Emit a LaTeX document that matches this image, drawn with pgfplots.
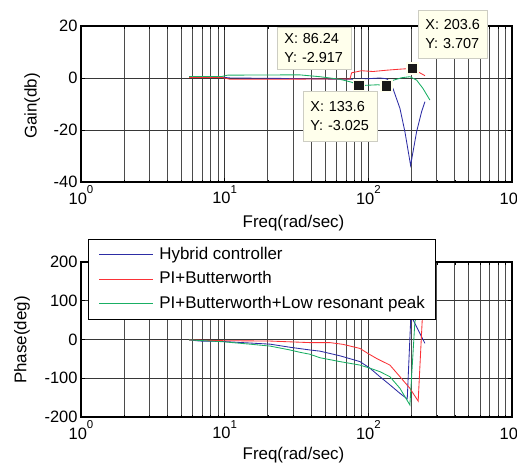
\documentclass[border=0pt]{standalone}
\usepackage{fontspec}
\setmainfont{Liberation Sans}
\usepackage{pgfplots}
\pgfplotsset{compat=1.18}

\definecolor{cblue}{RGB}{45,45,165}
\definecolor{cred}{RGB}{250,50,55}
\definecolor{cgreen}{RGB}{25,175,100}
\definecolor{tipfill}{RGB}{255,255,236}
\definecolor{tipedge}{RGB}{205,205,195}
\definecolor{gridc}{RGB}{55,55,55}

% decade labels 10^n set in the text font
\newcommand{\dec}[1]{10\raisebox{10.5bp}{\fontsize{11.5}{12}\selectfont #1}}

\tikzset{
  datatip/.style={draw=tipedge, fill=tipfill, line width=0.8bp, align=left,
    font=\fontsize{14.5}{19}\selectfont, inner xsep=7bp, inner ysep=0bp,
    anchor=north west},
}
% legend sample: a thin 54bp bar in the given colour
\pgfplotsset{
  legline/.style={legend image code/.code={%
    \path[draw=none, fill=#1] (0bp,-0.5bp) rectangle (54bp,0.5bp);
    \path (60bp,0bp);}},
}

\begin{document}
\begin{tikzpicture}

% ---------------- magnitude ----------------
\begin{axis}[
  scale only axis, width=431bp, height=156bp,
  at={(81bp,-182bp)}, anchor=south west,
  xmode=log, xmin=1, xmax=1000,
  xtick={1,10,100,1000},
  xticklabels={\dec{0},\dec{1},\dec{2},\dec{3}},
  ymin=-40, ymax=20, ytick={-40,-20,0,20},
  xmajorgrids, xminorgrids, ymajorgrids,
  major grid style={gridc, line width=0.9bp},
  minor grid style={gridc!90, line width=0.9bp},
  axis line style={black, line width=1.5bp},
  tick style={black, line width=0.6bp},
  major tick length=4bp, minor tick length=2.5bp,
  tick align=inside,
  ticklabel style={font=\fontsize{16.5}{19}\selectfont},
  label style={font=\fontsize{17}{20}\selectfont},
  /pgf/number format/assume math mode=true,
  ylabel={Gain(db)}, xlabel={Freq(rad/sec)},
  ylabel style={at={(axis description cs:-0.113,0.487)}, anchor=center},
  xlabel style={at={(axis description cs:0.493,-0.264)}, anchor=center},
]
% Hybrid controller
\addplot[draw=cblue, line width=0.85bp] coordinates {
  (5.65,0.3) (9.6,0.3) (11,0.0) (30,-0.2) (50,-0.4) (74.5,-0.5) (97,-0.3)
  (120.4,0.0) (134,-0.3) (141.3,-1.5) (148.3,-4) (166,-11.7) (179.8,-20.7)
  (196.9,-33.6) (216.7,-20.7) (234.8,-13) (247.7,-9.1)};
% PI + Butterworth
\addplot[draw=cred, line width=0.85bp] coordinates {
  (5.65,0.2) (9.6,0.2) (10.9,-0.5) (20,-0.5) (40,-0.4) (74.5,-0.4)
  (76.5,2.0) (89.8,2.8) (107.7,2.5) (134,3.0) (166,3.4) (203.6,3.707)
  (221.3,2.4) (247.7,0.9)};
% PI + Butterworth + low resonant peak
\addplot[draw=cgreen, line width=0.85bp] coordinates {
  (5.65,0.6) (9.6,0.6) (10.5,1.1) (28.5,1.2) (33.4,1.2) (46,0.5) (63.4,-0.5)
  (76.5,-1.6) (86.24,-2.917) (97.3,-2.8) (116.7,-2.6) (133.6,-3.025)
  (148.3,-0.9) (170.5,0.1) (194.7,0.5) (216.7,-0.8) (239.9,-4) (268.3,-8.5)};
% data tips
\addplot[only marks, mark=square*, mark size=5.5bp,
  mark options={fill=black!90, draw=tipfill, line width=1.5bp}]
  coordinates {(86.24,-2.917) (133.6,-3.025) (203.6,3.707)};
\end{axis}

% ---------------- phase ----------------
\begin{axis}[
  scale only axis, width=431bp, height=155bp,
  at={(81bp,-417bp)}, anchor=south west,
  xmode=log, xmin=1, xmax=1000,
  xtick={1,10,100,1000},
  xticklabels={\dec{0},\dec{1},\dec{2},\dec{3}},
  ymin=-200, ymax=200, ytick={-200,-100,0,100,200},
  xmajorgrids, xminorgrids, ymajorgrids,
  major grid style={gridc, line width=0.9bp},
  minor grid style={gridc!90, line width=0.9bp},
  axis line style={black, line width=1.5bp},
  tick style={black, line width=0.6bp},
  major tick length=4bp, minor tick length=2.5bp,
  tick align=inside,
  ticklabel style={font=\fontsize{16.5}{19}\selectfont},
  label style={font=\fontsize{17}{20}\selectfont},
  /pgf/number format/assume math mode=true,
  ylabel={Phase(deg)}, xlabel={Freq(rad/sec)},
  ylabel style={at={(axis description cs:-0.137,0.497)}, anchor=center},
  xlabel style={at={(axis description cs:0.493,-0.245)}, anchor=center},
  legend style={at={(0.0162,1.148)}, anchor=north west, draw=black,
    line width=0.9bp, fill=white, inner xsep=10.5bp, inner ysep=7bp,
    row sep=8bp, font=\fontsize{17}{20}\selectfont,
    cells={anchor=west},
    nodes={inner sep=0pt, text height=12.5bp, text depth=4bp}},
]
\addplot[draw=cblue, line width=0.85bp, legline=cblue] coordinates {
  (5.65,-1) (6.7,-4) (9.6,-5) (20.7,-12) (28.5,-20) (39.2,-27) (46,-30)
  (63.4,-42) (87.4,-57) (102.6,-74) (120.4,-96) (141.3,-117) (166,-139)
  (184.8,-152) (186.6,-153) (197.8,62) (247.7,-10)};
\addlegendentry{Hybrid controller}
\addplot[draw=cred, line width=0.85bp, legline=cred] coordinates {
  (5.65,-1) (9.6,-3) (20.7,-4) (33.4,-7) (39.2,-8) (54,-8) (66.6,-12.5)
  (87.4,-23) (99.4,-36) (114.2,-49) (141.3,-66) (166,-96) (194.7,-126)
  (222.3,-159) (247.7,190)};
\addlegendentry{PI+Butterworth}
\addplot[draw=cgreen, line width=0.85bp, legline=cgreen] coordinates {
  (5.65,-1) (9.6,-5.6) (15,-12) (20.7,-17) (28.5,-27) (33.4,-33) (39.2,-38)
  (46,-47) (63.4,-57) (87.4,-66) (102.6,-74) (120.4,-83) (141.3,-96)
  (166,-126) (194.7,-169) (210.9,46) (216.7,60)};
\addlegendentry{PI+Butterworth+Low resonant peak}
\end{axis}

% data tip boxes
\node[datatip, minimum width=74bp, minimum height=42bp, text width=60bp] at (277bp,-27bp)
  {X: 86.24\\Y: -2.917};
\node[datatip, minimum width=74bp, minimum height=50bp, text width=60bp] at (303bp,-91bp)
  {X: 133.6\\Y: -3.025};
\node[datatip, minimum width=69bp, minimum height=48bp, text width=55bp] at (418bp,-10bp)
  {X: 203.6\\Y: 3.707};

\pgfresetboundingbox
\path (0bp,0bp) rectangle (517bp,-469bp);
\end{tikzpicture}
\end{document}
